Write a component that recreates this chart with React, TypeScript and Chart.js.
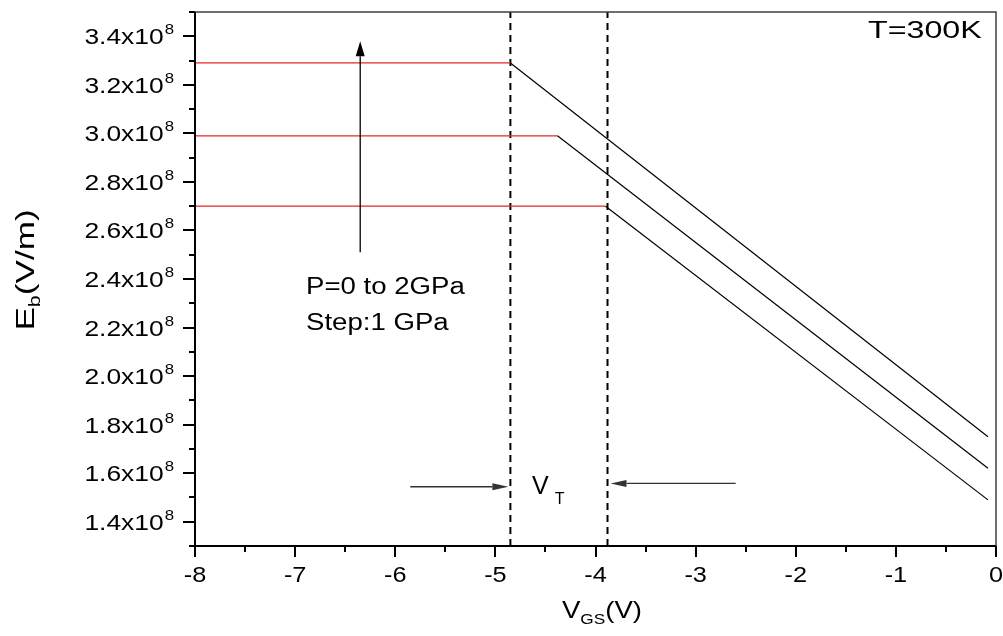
import React, { useEffect, useRef } from "react";
import { Chart, registerables } from "chart.js";

Chart.register(...registerables);

// ---- Data (V_GS in volts, E_b in V/m) ----
const vgsP0 = [-8, -3.9, -0.08];
const ebP0 = [2.70e8, 2.70e8, 1.49e8];
const vgsP1 = [-8, -4.38, -0.08];
const ebP1 = [2.99e8, 2.99e8, 1.62e8];
const vgsP2 = [-8, -4.85, -0.08];
const ebP2 = [3.29e8, 3.29e8, 1.75e8];
const vtBounds = [-4.85, -3.88];

const xTickValues = [-8, -7, -6, -5, -4, -3, -2, -1, 0];
const xTickLabels = ["-8", "-7", "-6", "-5", "-4", "-3", "-2", "-1", "0"];
const yTickValues = [1.4e8, 1.6e8, 1.8e8, 2.0e8, 2.2e8, 2.4e8, 2.6e8, 2.8e8, 3.0e8, 3.2e8, 3.4e8];
const yTickMantissas = ["1.4", "1.6", "1.8", "2.0", "2.2", "2.4", "2.6", "2.8", "3.0", "3.2", "3.4"];
const yTickExponent = "8";

const X_MIN = -8;
const X_MAX = 0;
const Y_MIN = 1.3e8;
const Y_MAX = 3.5e8;

// annotation anchor points (data coordinates)
const pArrowX = -6.35;
const pArrowY = [2.51e8, 3.38e8];
const vtLeftArrowX = [-5.85, -4.87];
const vtLeftArrowY = 1.544e8;
const vtRightArrowX = [-2.6, -3.85];
const vtRightArrowY = 1.558e8;

const FONT = '"Liberation Sans", Arial, sans-serif';

type Run = { text: string; size: number; dy?: number; dx?: number };

function runsWidth(ctx: CanvasRenderingContext2D, runs: Run[], sx: number) {
  let w = 0;
  for (const r of runs) {
    ctx.font = `${r.size}px ${FONT}`;
    w += ctx.measureText(r.text).width * sx + (r.dx || 0);
  }
  return w;
}

function drawRuns(
  ctx: CanvasRenderingContext2D,
  runs: Run[],
  x: number,
  y: number,
  align: "left" | "center" | "right",
  sx: number
) {
  const w = runsWidth(ctx, runs, sx);
  let cx = x;
  if (align === "center") cx = x - w / 2;
  if (align === "right") cx = x - w;
  ctx.save();
  ctx.fillStyle = "#000";
  ctx.textAlign = "left";
  ctx.textBaseline = "alphabetic";
  for (const r of runs) {
    ctx.font = `${r.size}px ${FONT}`;
    const tw = ctx.measureText(r.text).width;
    cx += r.dx || 0;
    ctx.save();
    ctx.translate(cx, y + (r.dy || 0));
    ctx.scale(sx, 1);
    ctx.fillText(r.text, 0, 0);
    ctx.restore();
    cx += tw * sx;
  }
  ctx.restore();
}

function arrow(
  ctx: CanvasRenderingContext2D,
  x0: number,
  y0: number,
  x1: number,
  y1: number,
  color: string,
  headLen: number,
  headHalf: number
) {
  const ang = Math.atan2(y1 - y0, x1 - x0);
  const bx = x1 - Math.cos(ang) * headLen;
  const by = y1 - Math.sin(ang) * headLen;
  ctx.save();
  ctx.strokeStyle = color;
  ctx.fillStyle = color;
  ctx.lineWidth = 1.3;
  ctx.beginPath();
  ctx.moveTo(x0, y0);
  ctx.lineTo(bx, by);
  ctx.stroke();
  ctx.beginPath();
  ctx.moveTo(x1, y1);
  ctx.lineTo(bx + Math.sin(ang) * headHalf, by - Math.cos(ang) * headHalf);
  ctx.lineTo(bx - Math.sin(ang) * headHalf, by + Math.cos(ang) * headHalf);
  ctx.closePath();
  ctx.fill();
  ctx.restore();
}

const decorPlugin = {
  id: "decor",
  afterDraw(chart: any) {
    const ctx: CanvasRenderingContext2D = chart.ctx;
    const { left, right, top, bottom } = chart.chartArea;
    const xs = chart.scales.x;
    const ys = chart.scales.y;

    ctx.save();
    ctx.strokeStyle = "#404040";
    ctx.lineWidth = 1.5;
    ctx.beginPath();
    ctx.moveTo(left, top);
    ctx.lineTo(right, top);
    ctx.lineTo(right, bottom);
    ctx.stroke();
    ctx.strokeStyle = "#000";
    ctx.lineWidth = 2;
    ctx.beginPath();
    ctx.moveTo(left, top);
    ctx.lineTo(left, bottom);
    ctx.lineTo(right, bottom);
    ctx.stroke();

    ctx.lineWidth = 2;
    for (let v = X_MIN; v <= X_MAX + 1e-9; v += 0.5) {
      const px = Math.round(xs.getPixelForValue(v));
      const major = Math.abs(v - Math.round(v)) < 1e-9;
      ctx.beginPath();
      ctx.moveTo(px, bottom);
      ctx.lineTo(px, bottom + (major ? 11 : 6));
      ctx.stroke();
    }
    for (let i = 0; i <= 22; i++) {
      const v = Y_MIN + i * 0.1e8;
      const py = Math.round(ys.getPixelForValue(v));
      const major = i % 2 === 1;
      ctx.beginPath();
      ctx.moveTo(left - (major ? 12 : 6), py);
      ctx.lineTo(left, py);
      ctx.stroke();
    }
    ctx.restore();

    xTickValues.forEach((v, i) => {
      const px = xs.getPixelForValue(v);
      drawRuns(ctx, [{ text: xTickLabels[i], size: 22 }], px, 582, "center", 1.15);
    });
    yTickValues.forEach((v, i) => {
      const py = ys.getPixelForValue(v);
      drawRuns(
        ctx,
        [
          { text: yTickMantissas[i] + "x10", size: 22 },
          { text: yTickExponent, size: 14, dy: -10, dx: 1 },
        ],
        174,
        py + 8,
        "right",
        1.2
      );
    });

    drawRuns(
      ctx,
      [
        { text: "V", size: 24 },
        { text: "GS", size: 15, dy: 6 },
        { text: "(V)", size: 24 },
      ],
      602,
      618,
      "center",
        1.15
    );
    ctx.save();
    ctx.translate(34, 270);
    ctx.rotate(-Math.PI / 2);
    drawRuns(
      ctx,
      [
        { text: "E", size: 26 },
        { text: "b", size: 16, dy: 6 },
        { text: "(V/m)", size: 26 },
      ],
      0,
      0,
      "center",
      1.35
    );
    ctx.restore();

    drawRuns(ctx, [{ text: "T=300K", size: 23 }], 868, 38, "left", 1.4);
    drawRuns(ctx, [{ text: "P=0 to 2GPa", size: 23 }], 306, 294, "left", 1.2);
    drawRuns(ctx, [{ text: "Step:1 GPa", size: 23 }], 306, 330, "left", 1.2);
    drawRuns(
      ctx,
      [
        { text: "V", size: 25 },
        { text: "T", size: 16, dy: 10, dx: 6 },
      ],
      532,
      494,
      "left",
      1.0
    );

    arrow(
      ctx,
      xs.getPixelForValue(pArrowX),
      ys.getPixelForValue(pArrowY[0]),
      xs.getPixelForValue(pArrowX),
      ys.getPixelForValue(pArrowY[1]),
      "#000",
      15,
      4.5
    );
    arrow(
      ctx,
      xs.getPixelForValue(vtLeftArrowX[0]),
      ys.getPixelForValue(vtLeftArrowY),
      xs.getPixelForValue(vtLeftArrowX[1]),
      ys.getPixelForValue(vtLeftArrowY),
      "#333",
      16,
      3.5
    );
    arrow(
      ctx,
      xs.getPixelForValue(vtRightArrowX[0]),
      ys.getPixelForValue(vtRightArrowY),
      xs.getPixelForValue(vtRightArrowX[1]),
      ys.getPixelForValue(vtRightArrowY),
      "#333",
      16,
      3.5
    );
  },
};

function series(xv: number[], yv: number[]) {
  return xv.map((x, i) => ({ x, y: yv[i] }));
}

export default function App() {
  const ref = useRef<HTMLCanvasElement | null>(null);

  useEffect(() => {
    if (!ref.current) return;
    const segColor = (c: any) =>
      c.p0.parsed.y === c.p1.parsed.y ? "rgb(228,40,40)" : "#000";
    const curve = (label: string, xv: number[], yv: number[]) => ({
      label,
      data: series(xv, yv),
      showLine: true,
      pointRadius: 0,
      borderWidth: 1.2,
      borderColor: "#000",
      segment: { borderColor: segColor },
    });
    const vline = (label: string, x: number) => ({
      label,
      data: series([x, x], [Y_MIN, Y_MAX]),
      showLine: true,
      pointRadius: 0,
      borderWidth: 2,
      borderColor: "#000",
      borderDash: [7, 5],
    });
    const chart = new Chart(ref.current, {
      type: "scatter",
      data: {
        datasets: [
          curve("P=0 GPa", vgsP0, ebP0),
          curve("P=1 GPa", vgsP1, ebP1),
          curve("P=2 GPa", vgsP2, ebP2),
          vline("VT lower", vtBounds[0]),
          vline("VT upper", vtBounds[1]),
        ] as any,
      },
      options: {
        animation: false,
        responsive: false,
        layout: { padding: { left: 195, right: 7, top: 12, bottom: 90 } },
        scales: {
          x: { type: "linear", min: X_MIN, max: X_MAX, display: false },
          y: { type: "linear", min: Y_MIN, max: Y_MAX, display: false },
        },
        plugins: { legend: { display: false }, tooltip: { enabled: false } },
      },
      plugins: [decorPlugin],
    });
    return () => chart.destroy();
  }, []);

  return (
    <div style={{ position: "absolute", left: 0, top: 0, width: 1003, height: 636, background: "#fff" }}>
      <canvas ref={ref} width={1003} height={636} style={{ display: "block" }} />
    </div>
  );
}
